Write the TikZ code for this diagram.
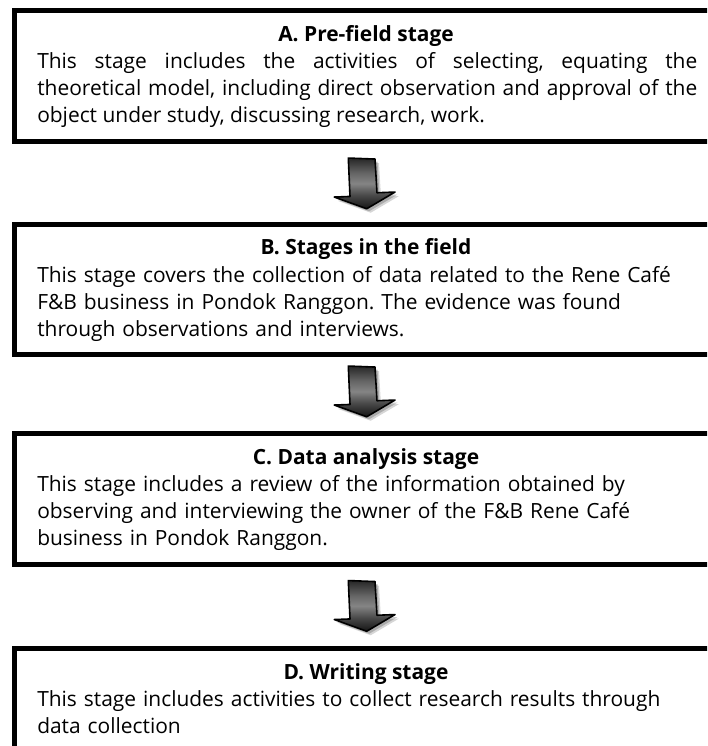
\documentclass[tikz,border=0pt]{standalone}
\usepackage{fontspec}
\setmainfont{Open Sans}
\usetikzlibrary{calc}
\hyphenpenalty=10000
\frenchspacing
\pgfdeclareverticalshading{arrowshade}{100bp}{color(0bp)=(black!92); color(25bp)=(black!92); color(38bp)=(black!72); color(50bp)=(black!48); color(60bp)=(black!60); color(75bp)=(black!85); color(100bp)=(black!85)}
\begin{document}
\begin{tikzpicture}[x=0.75pt,y=-0.75pt,
  stagebox/.style={draw=black, line width=3.75pt, fill=white, minimum width=527.25pt,
    inner sep=0pt, outer sep=0pt, anchor=north},
  ttl/.style={font=\fontsize{15.7}{20.25}\selectfont\bfseries, anchor=base, inner sep=0pt},
  body/.style={font=\fontsize{15.7}{20.25}\selectfont, anchor=base west,
    inner sep=0pt, text width=495pt, align=left},
  blockarrow/.pic={
    \fill[black, opacity=0.16] (-11.7,-20.7) -- (15,-19.7) -- (17,14) -- (35,13.3) -- (6.7,30) -- (-25.7,18.3) -- (-10,17.7) -- cycle;
    \fill[black, opacity=0.2] (-13.2,-22.2) -- (13.5,-21.2) -- (15.5,12.5) -- (33.5,11.8) -- (5.2,28.5) -- (-27.2,16.8) -- (-11.5,16.2) -- cycle;
    \shadedraw[draw=black, line width=1.2pt, line join=round, shading=arrowshade]
      (-15.7,-24.7) -- (11,-23.7) -- (13,10) -- (31,9.3) -- (2.7,26) -- (-29.7,14.3) -- (-14,13.7) -- cycle;
  }]
\useasboundingbox (0,0) rectangle (707,746);
\clip (0,0) rectangle (707,746);
\fill[white] (0,0) rectangle (707,746);

% boxes
\node[stagebox, minimum height=98.625pt] (A) at (366,10) {};
\node[stagebox, minimum height=97.875pt] (B) at (366,224) {};
\node[stagebox, minimum height=98.25pt] (C) at (366,433) {};
\node[stagebox, minimum height=112.5pt] (D) at (366,648.5) {};

% texts
\node[ttl] (At) at ($(A.north)+(0,31.5)$) {A. Pre-field stage};
\node[body, align=justify] (Ab) at ($(A.north west)+(22.5,58)$)
  {This stage includes the activities of selecting, equating the\linebreak
   theoretical model, including direct observation and approval of the\linebreak
   object under study, discussing research, work.};

\node[ttl] (Bt) at ($(B.north)+(0,30.5)$) {B. Stages in the field};
\node[body] (Bb) at ($(B.north west)+(22.5,58)$)
  {This stage covers the collection of data related to the Rene Café\\
   F\&B business in Pondok Ranggon. The evidence was found\\
   through observations and interviews.};

\node[ttl] (Ct) at ($(C.north)+(0,31)$) {C. Data analysis stage};
\node[body] (Cb) at ($(C.north west)+(22.5,58)$)
  {This stage includes a review of the information obtained by\\
   observing and interviewing the owner of the F\&B Rene Café\\
   business in Pondok Ranggon.};

\node[ttl] (Dt) at ($(D.north)+(0,31)$) {D. Writing stage};
\node[body] (Db) at ($(D.north west)+(22.5,57.5)$)
  {This stage includes activities to collect research results through\\
   data collection};

% arrows between boxes
\coordinate (ab) at ($(A.south)!0.5!(B.north)+(-2,0)$);
\coordinate (bc) at ($(B.south)!0.5!(C.north)+(-2,-3)$);
\coordinate (cd) at ($(C.south)!0.5!(D.north)+(-2,-1)$);
\pic (arAB) at (ab) {blockarrow};
\pic (arBC) at (bc) {blockarrow};
\pic (arCD) at (cd) {blockarrow};
\end{tikzpicture}
\end{document}
